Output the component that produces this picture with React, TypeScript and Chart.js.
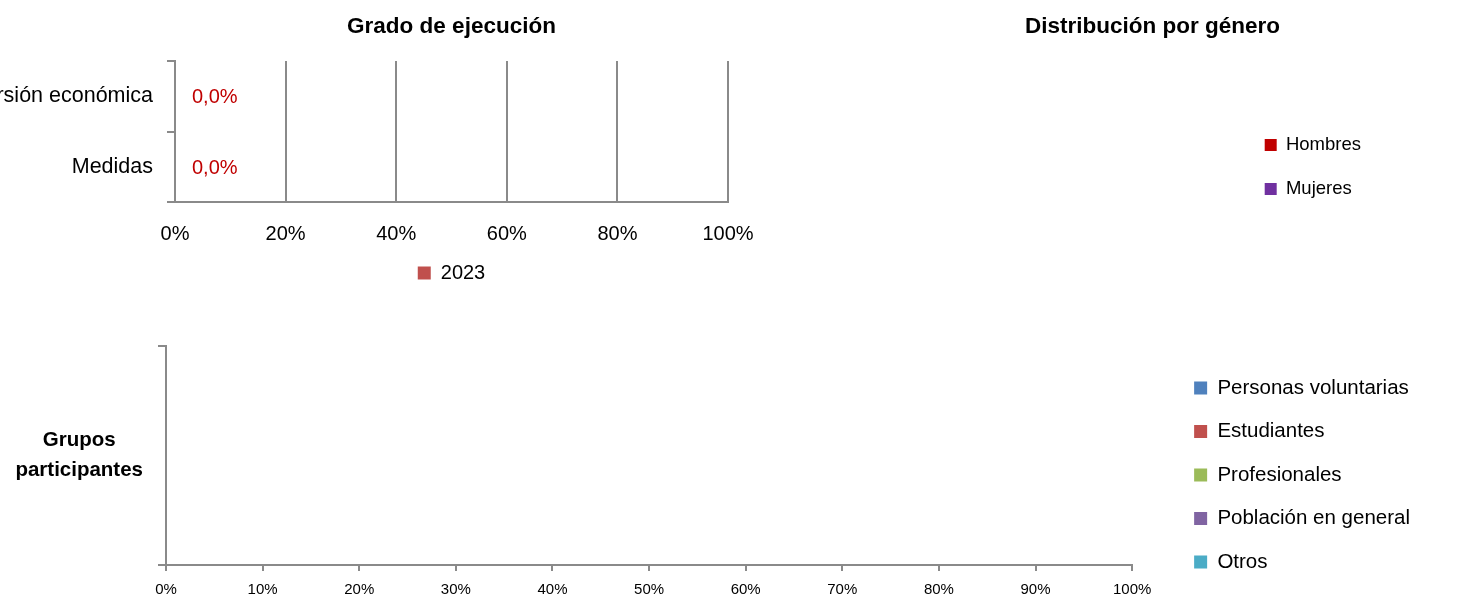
import React, { useEffect, useRef } from 'react';
import { Chart, registerables } from 'chart.js';

Chart.register(...registerables);

// ---------- data ----------
const executionCategories = ['Inversión económica', 'Medidas'];
const executionSeriesLabel = '2023';
const executionValues = [0, 0];
const executionTicks = [0, 20, 40, 60, 80, 100];

const genderLabels = ['Hombres', 'Mujeres'];
const genderValues = [0, 0];
const genderColors = ['#c00000', '#7030a0'];

const groupCategories = [['Grupos', 'participantes']];
const groupSeries = ['Personas voluntarias', 'Estudiantes', 'Profesionales', 'Población en general', 'Otros'];
const groupColors = ['#4f81bd', '#c0504d', '#9bbb59', '#8064a2', '#4bacc6'];
const voluntariasValues = [0];
const estudiantesValues = [0];
const profesionalesValues = [0];
const poblacionValues = [0];
const otrosValues = [0];
const groupValues = [voluntariasValues, estudiantesValues, profesionalesValues, poblacionValues, otrosValues];
const groupTicks = [0, 10, 20, 30, 40, 50, 60, 70, 80, 90, 100];

// ---------- styles ----------
const FONT = "'Liberation Sans', Arial, Helvetica, sans-serif";
const GRAY = '#8a8a8a';

Chart.defaults.font.family = FONT;
Chart.defaults.color = '#000';

const pct = (v: any) => `${v}%`;

const barValueLabels = {
  id: 'barValueLabels',
  afterDatasetsDraw(chart: any, _args: any, opts: any) {
    const ctx = chart.ctx;
    ctx.save();
    ctx.font = `${opts.size}px ${FONT}`;
    ctx.fillStyle = opts.color;
    ctx.textAlign = 'left';
    ctx.textBaseline = 'middle';
    chart.data.datasets.forEach((ds: any, i: number) => {
      const meta = chart.getDatasetMeta(i);
      meta.data.forEach((el: any, j: number) => {
        const v = Number(ds.data[j]);
        const txt = v.toFixed(1).replace('.', ',') + '%';
        ctx.fillText(txt, el.x + opts.offset, el.y + opts.dy);
      });
    });
    ctx.restore();
  },
};

function executionConfig(): any {
  return {
    type: 'bar',
    data: {
      labels: executionCategories,
      datasets: [
        {
          label: executionSeriesLabel,
          data: executionValues,
          backgroundColor: '#c0504d',
          borderWidth: 0,
        },
      ],
    },
    options: {
      indexAxis: 'y',
      responsive: false,
      animation: false,
      devicePixelRatio: 1,
      layout: { padding: { left: 0, right: 72, top: 0, bottom: 7 } },
      scales: {
        x: {
          type: 'linear',
          min: 0,
          max: 100,
          afterBuildTicks: (s: any) => {
            s.ticks = executionTicks.map((v) => ({ value: v }));
          },
          grid: { color: GRAY, lineWidth: 2, drawTicks: false },
          border: { color: GRAY, width: 2 },
          ticks: { padding: 20, font: { size: 20 }, color: '#000', callback: pct, maxRotation: 0, autoSkip: false },
          afterFit: (s: any) => {
            s.height = 45;
          },
        },
        y: {
          type: 'category',
          grid: { color: GRAY, lineWidth: 2, drawOnChartArea: false, drawTicks: true, tickLength: 8, offset: true },
          border: { color: GRAY, width: 2 },
          ticks: { padding: 14, font: { size: 21.5 }, color: '#000' },
          afterFit: (s: any) => {
            s.width = 175;
            s.paddingTop = 0;
            s.paddingBottom = 0;
          },
        },
      },
      plugins: {
        title: {
          display: true,
          text: 'Grado de ejecución',
          fullSize: false,
          color: '#000',
          font: { size: 22.5, weight: 'bold' },
          padding: { top: 13.5, bottom: 20.5 },
        },
        legend: {
          position: 'bottom',
          fullSize: false,
          labels: { boxWidth: 13, boxHeight: 13, padding: 16, color: '#000', font: { size: 20 } },
        },
        tooltip: { enabled: false },
        barValueLabels: { color: '#c00000', offset: 17, dy: 1.5, size: 20 },
      },
    },
    plugins: [barValueLabels],
  };
}

function genderConfig(): any {
  return {
    type: 'pie',
    data: {
      labels: genderLabels,
      datasets: [{ data: genderValues, backgroundColor: genderColors, borderWidth: 0 }],
    },
    options: {
      responsive: false,
      animation: false,
      devicePixelRatio: 1,
      layout: { padding: { left: 166, right: 97, top: 0, bottom: 0 } },
      plugins: {
        title: {
          display: true,
          text: 'Distribución por género',
          color: '#000',
          font: { size: 22.5, weight: 'bold' },
          padding: { top: 13.5, bottom: 10 },
        },
        legend: {
          position: 'right',
          maxWidth: 400,
          labels: { boxWidth: 12, boxHeight: 12, padding: 25.5, color: '#000', font: { size: 18.5 } },
        },
        tooltip: { enabled: false },
      },
    },
  };
}

function groupsConfig(): any {
  return {
    type: 'bar',
    data: {
      labels: groupCategories,
      datasets: groupSeries.map((name, i) => ({
        label: name,
        data: groupValues[i],
        backgroundColor: groupColors[i],
        borderWidth: 0,
      })),
    },
    options: {
      indexAxis: 'y',
      responsive: false,
      animation: false,
      devicePixelRatio: 1,
      layout: { padding: { left: 0, right: 48, top: 46, bottom: 0 } },
      scales: {
        x: {
          type: 'linear',
          stacked: true,
          min: 0,
          max: 100,
          afterBuildTicks: (s: any) => {
            s.ticks = groupTicks.map((v) => ({ value: v }));
          },
          grid: { color: GRAY, lineWidth: 2, drawOnChartArea: false, drawTicks: true, tickLength: 6 },
          border: { color: GRAY, width: 2 },
          ticks: { padding: 10, font: { size: 15 }, color: '#000', callback: pct, maxRotation: 0, autoSkip: false },
          afterFit: (s: any) => {
            s.height = 39;
          },
        },
        y: {
          type: 'category',
          stacked: true,
          grid: { color: GRAY, lineWidth: 2, drawOnChartArea: false, drawTicks: true, tickLength: 8, offset: true },
          border: { color: GRAY, width: 2 },
          ticks: { padding: 15, crossAlign: 'center', color: '#000', font: { size: 20.5, weight: 'bold', lineHeight: 1.45 } },
          afterFit: (s: any) => {
            s.width = 166;
            s.paddingTop = 0;
            s.paddingBottom = 0;
          },
        },
        spacer: {
          type: 'linear',
          position: 'right',
          axis: 'y',
          grid: { display: false },
          border: { display: false },
          ticks: { display: false },
          afterFit: (s: any) => {
            s.width = 39;
            s.paddingTop = 0;
            s.paddingBottom = 0;
          },
        },
      },
      plugins: {
        legend: {
          position: 'right',
          maxWidth: 400,
          labels: { boxWidth: 13, boxHeight: 13, padding: 23, color: '#000', font: { size: 20.5 } },
        },
        tooltip: { enabled: false },
      },
    },
  };
}

function ChartCanvas(props: { make: () => any; left: number; top: number; width: number; height: number }) {
  const ref = useRef<HTMLCanvasElement | null>(null);
  useEffect(() => {
    const chart = new Chart(ref.current as HTMLCanvasElement, props.make());
    return () => chart.destroy();
  }, []);
  return (
    <canvas
      ref={ref}
      width={props.width}
      height={props.height}
      style={{
        position: 'absolute',
        left: props.left,
        top: props.top,
        width: props.width,
        height: props.height,
        display: 'block',
      }}
    />
  );
}

export default function App() {
  return (
    <div
      style={{
        position: 'absolute',
        left: 0,
        top: 0,
        width: 1468,
        height: 598,
        overflow: 'hidden',
        background: '#fff',
      }}
    >
      <ChartCanvas make={executionConfig} left={0} top={0} width={800} height={300} />
      <ChartCanvas make={genderConfig} left={768} top={0} width={700} height={334} />
      <ChartCanvas make={groupsConfig} left={0} top={300} width={1468} height={304} />
    </div>
  );
}
